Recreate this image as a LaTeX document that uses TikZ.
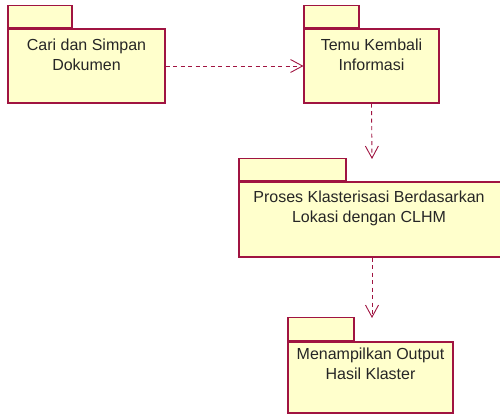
\documentclass[tikz,border=0pt]{standalone}
\usepackage{fontspec}
\setmainfont{Liberation Sans}
\definecolor{Pkgline}{RGB}{160,20,65}
\definecolor{Pkgfill}{RGB}{255,255,204}
\usetikzlibrary{positioning, arrows.meta}

\begin{document}
\begin{tikzpicture}[x=1pt, y=-1pt,
  pkg/.style  ={rectangle, draw=Pkgline, fill=Pkgfill, line width=1.1pt,
                inner sep=0pt},
  tab/.style  ={rectangle, draw=Pkgline, fill=Pkgfill, line width=1.1pt,
                inner sep=0pt, minimum height=22pt, anchor=south west},
  lbl/.style  ={align=center, anchor=north, inner sep=0pt,
                font=\fontsize{16}{20}\selectfont, text=black!85},
  dep/.style  ={-{Straight Barb[length=12pt, width=13pt]}, line width=0.9pt,
                color=Pkgline, dash pattern=on 4pt off 3.5pt},
]
\useasboundingbox (0,0) rectangle (500,414);

%% ═══════════════ Paquetes ═══════════════
% Cari dan Simpan Dokumen
\node[pkg, minimum width=157pt, minimum height=74pt] (CS) at (86.5, 66) {};
\node[tab, minimum width=64pt] (CSt) at (CS.north west) {};
\node[lbl, below=10pt of CS.north] (CSl) {Cari dan Simpan\\Dokumen};

% Temu Kembali Informasi
\node[pkg, minimum width=135pt, minimum height=74pt] (TK) at (371.5, 66) {};
\node[tab, minimum width=55pt] (TKt) at (TK.north west) {};
\node[lbl, below=10pt of TK.north] (TKl) {Temu Kembali\\Informasi};

% Proses Klasterisasi
\node[pkg, minimum width=268pt, minimum height=75pt] (PK) at (373, 219.5) {};
\node[tab, minimum width=107pt] (PKt) at (PK.north west) {};
\coordinate (PKtop) at (369, 182);
\node[lbl, below=8.5pt of PKtop] (PKl)
  {Proses Klasterisasi Berdasarkan\\Lokasi dengan CLHM};

% Menampilkan Output
\node[pkg, minimum width=165pt, minimum height=71pt] (MO) at (370.5, 377.5) {};
\node[tab, minimum width=66pt, minimum height=23pt] (MOt) at (MO.north west) {};
\node[lbl, below=6.5pt of MO.north] (MOl) {Menampilkan Output\\Hasil Klaster};

%% ═══ Dependencias ═══
\coordinate (PKin) at (372, 159);
\coordinate (MOin) at (372, 318);
\draw[dep] (CS.east) -- (TK.west);
\draw[dep] (TK.south) -- (PKin);
\draw[dep] (PK.south -| PKin) -- (MOin);

\end{tikzpicture}
\end{document}
